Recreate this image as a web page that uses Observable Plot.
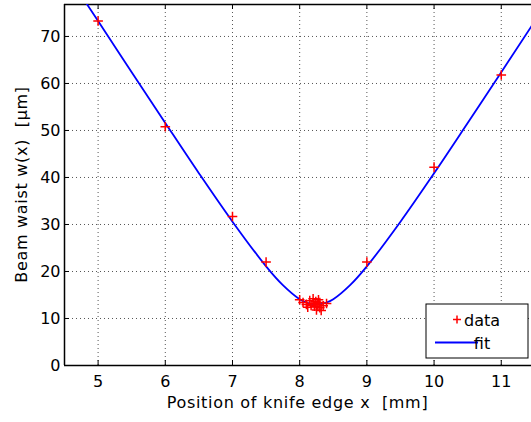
<!DOCTYPE html>
<html>
<head>
<meta charset="utf-8">
<script src="https://cdn.jsdelivr.net/npm/d3@7"></script>
<script src="https://cdn.jsdelivr.net/npm/@observablehq/plot@0.6"></script>
<style>
  html, body { margin: 0; padding: 0; background: #fff; }
  svg { font-family: "DejaVu Sans", sans-serif; }
</style>
</head>
<body>
<div id="chart"></div>
<script>
// Measured data points (position x [mm], beam waist [µm])
const dataX = [5, 6, 7, 7.5, 8.0, 8.05, 8.1, 8.12, 8.15, 8.17, 8.2, 8.2, 8.22, 8.24, 8.25, 8.27, 8.28, 8.3, 8.3, 8.32, 8.35, 8.4, 9, 10, 11];
const dataY = [73.3, 50.8, 31.7, 22.0, 14.0, 13.4, 13.0, 12.4, 13.8, 12.8, 14.2, 13.2, 12.6, 13.6, 11.8, 12.9, 14.0, 12.3, 13.4, 11.7, 12.7, 13.2, 22.0, 42.2, 61.8];

// Fit curve
const fitX = [4.8, 5, 5.5, 6, 6.5, 7, 7.5, 7.75, 8, 8.1, 8.25, 8.4, 8.5, 8.75, 9, 9.5, 10, 10.5, 11, 11.45, 11.6];
const fitY = [77.6, 73.3, 62.4, 51.6, 40.9, 30.6, 21.1, 17.1, 14.1, 13.4, 13.0, 13.4, 14.1, 17.1, 21.1, 30.6, 40.9, 51.6, 62.4, 72.2, 75.5];

const xTicks = [5, 6, 7, 8, 9, 10, 11];
const yTicks = [0, 10, 20, 30, 40, 50, 60, 70];

const xLabel = "Position of knife edge x  [mm]";
const yLabel = "Beam waist w(x)  [µm]";
const legendLabels = ["data", "fit"];

const points = dataX.map((x, i) => ({x, y: dataY[i]}));
const fit = fitX.map((x, i) => ({x, y: fitY[i]}));

const W = 531, H = 422;
const mL = 64, mT = 4, mB = 57, mR = 0;
const plotW = W - mL - mR, plotH = H - mT - mB;
const tickLen = 5;
const FONT = "DejaVu Sans, sans-serif";

const gridStyle = {stroke: "#555", strokeOpacity: 1, strokeWidth: 1, strokeDasharray: "1,3"};

const chart = Plot.plot({
  width: W,
  height: H,
  marginLeft: mL,
  marginTop: mT,
  marginBottom: mB,
  marginRight: mR,
  style: {fontFamily: FONT, fontSize: "16px", color: "#000", background: "#fff"},
  x: {domain: [4.5, 11.45], label: null},
  y: {domain: [0, 76.8], label: null},
  marks: [
    Plot.gridX(xTicks, gridStyle),
    Plot.gridY(yTicks, gridStyle),
    // inward ticks
    Plot.tickX(xTicks, {x: d => d, insetTop: plotH - tickLen, stroke: "#000", strokeWidth: 1}),
    Plot.tickX(xTicks, {x: d => d, insetBottom: plotH - tickLen, stroke: "#000", strokeWidth: 1}),
    Plot.tickY(yTicks, {y: d => d, insetRight: plotW - tickLen, stroke: "#000", strokeWidth: 1}),
    Plot.axisX(xTicks, {tickSize: 0, tickPadding: 10, fontSize: 16, label: null}),
    Plot.axisY(yTicks, {tickSize: 0, tickPadding: 4, fontSize: 16, label: null}),
    Plot.ruleX([4.5], {stroke: "#000", strokeWidth: 1.5}),
    Plot.ruleY([0], {stroke: "#000", strokeWidth: 1.5}),
    Plot.ruleY([76.8], {stroke: "#000", strokeWidth: 1.5}),
    Plot.line(fit, {x: "x", y: "y", stroke: "#0000ff", strokeWidth: 1.8, curve: "catmull-rom", clip: true}),
    Plot.dot(points, {x: "x", y: "y", symbol: "plus", r: 3.2, stroke: "#ff0000", strokeWidth: 1.5})
  ]
});

const svg = d3.select(chart);
// axis titles
svg.append("text")
  .attr("x", mL + plotW / 2).attr("y", 408)
  .attr("text-anchor", "middle")
  .attr("font-family", FONT)
  .attr("letter-spacing", 0.7)
  .attr("font-size", 16).attr("fill", "#000")
  .text(xLabel);
svg.append("text")
  .attr("transform", `translate(27,${mT + plotH / 2}) rotate(-90)`)
  .attr("text-anchor", "middle")
  .attr("font-family", FONT)
  .attr("letter-spacing", 0.7)
  .attr("font-size", 16).attr("fill", "#000")
  .text(yLabel);

// legend
const lg = svg.append("g").attr("transform", "translate(426,304)");
lg.append("rect").attr("width", 102).attr("height", 54)
  .attr("fill", "#fff").attr("stroke", "#000").attr("stroke-width", 1);
lg.append("path").attr("d", "M27,15.5h8M31,11.5v8")
  .attr("stroke", "#ff0000").attr("stroke-width", 1.5);
lg.append("text").attr("x", 56).attr("y", 22).attr("font-family", FONT).attr("font-size", 16).attr("fill", "#000").text(legendLabels[0]);
lg.append("line").attr("x1", 9).attr("x2", 52).attr("y1", 38.5).attr("y2", 38.5)
  .attr("stroke", "#0000ff").attr("stroke-width", 1.8);
lg.append("text").attr("x", 56).attr("y", 45).attr("font-family", FONT).attr("font-size", 16).attr("fill", "#000").text(legendLabels[1]);

document.getElementById("chart").appendChild(chart);
</script>
</body>
</html>
